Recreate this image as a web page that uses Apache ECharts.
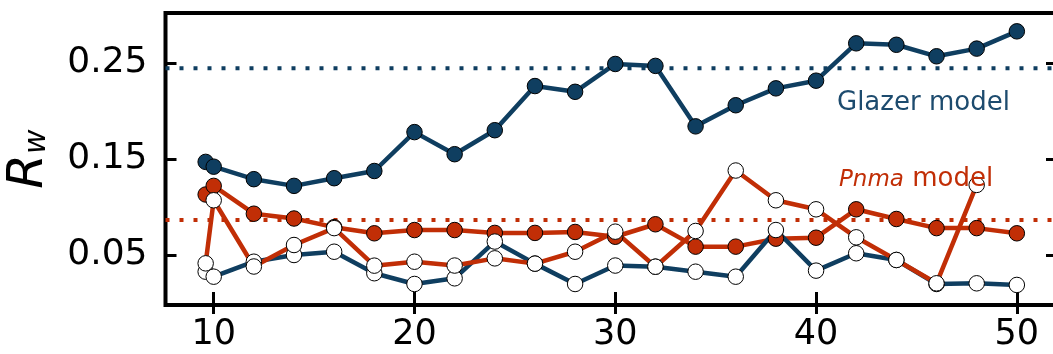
<!DOCTYPE html>
<html>
<head>
<meta charset="utf-8">
<script src="https://cdn.jsdelivr.net/npm/echarts@6/dist/echarts.min.js"></script>
<style>
html,body{margin:0;padding:0;background:#fff;}
#chart{width:1053px;height:354px;}
</style>
</head>
<body>
<div id="chart"></div>
<script>
// ---- data ----
const xValues = [9.6, 10, 12, 14, 16, 18, 20, 22, 24, 26, 28, 30, 32, 34, 36, 38, 40, 42, 44, 46, 48, 50];
const glazerFilled = [0.147, 0.142, 0.129, 0.122, 0.130, 0.1375, 0.178, 0.155, 0.180, 0.226, 0.220, 0.249, 0.247, 0.184, 0.206, 0.2236, 0.2316, 0.2705, 0.269, 0.257, 0.265, 0.283];
const pnmaFilled = [0.113, 0.122, 0.093, 0.088, 0.079, 0.0726, 0.076, 0.076, 0.073, 0.073, 0.074, 0.069, 0.082, 0.0587, 0.0587, 0.067, 0.068, 0.0976, 0.0875, 0.078, 0.078, 0.0726];
const glazerOpen = [0.0326, 0.0274, 0.043, 0.050, 0.0534, 0.031, 0.0198, 0.0257, 0.064, 0.041, 0.0198, 0.039, 0.0378, 0.0326, 0.0274, 0.076, 0.0337, 0.0518, 0.0448, 0.0198, 0.0205, 0.0188];
const pnmaOpen = [0.0413, 0.107, 0.038, 0.0604, 0.078, 0.0389, 0.043, 0.039, 0.0465, 0.041, 0.0534, 0.0743, 0.0378, 0.075, 0.138, 0.107, 0.0976, 0.0684, 0.0448, 0.0205, 0.123];
const glazerRef = 0.2445;
const pnmaRef = 0.0865;
const xTicks = [10, 20, 30, 40, 50];
const yTicks = [0.05, 0.15, 0.25];
const xMin = 7.6, xMax = 52.0;
const yMin = -0.0021, yMax = 0.3021;

const BLUE = '#0f3e60';
const RED = '#c12e06';
const FONT = 'DejaVu Sans';

function pairs(xs, ys) { return ys.map((v, i) => [xs[i], v]); }

const chart = echarts.init(document.getElementById('chart'), null, {renderer: 'canvas'});

const tickStyle = {show: true, inside: true, length: 11, lineStyle: {color: '#000', width: 3}};

function markerSeries(name, ys, lineColor, fill) {
  return {
    name: name, type: 'line', data: pairs(xValues, ys),
    symbol: 'circle', symbolSize: 15.5, showAllSymbol: true,
    lineStyle: {color: lineColor, width: 4.5},
    itemStyle: {color: fill, borderColor: '#000', borderWidth: 1},
    emphasis: {disabled: true}, silent: true
  };
}
function refSeries(level, color) {
  return {
    type: 'line', data: [[xMin, level], [xMax, level]], symbol: 'none',
    lineStyle: {color: color, width: 4, type: [4, 10], cap: 'butt'},
    silent: true, z: 1
  };
}

chart.setOption({
  animation: false,
  grid: {left: 165.5, top: 13, right: -4, bottom: 49, show: true, borderColor: '#000', borderWidth: 4,
         backgroundColor: 'transparent', containLabel: false, outerBoundsMode: 'none'},
  xAxis: [
    {type: 'value', min: xMin, max: xMax, position: 'bottom',
     axisLine: {show: false}, splitLine: {show: false},
     axisTick: Object.assign({customValues: xTicks}, tickStyle),
     axisLabel: {customValues: xTicks, fontSize: 35, color: '#000', fontFamily: FONT, margin: 12}},
    {type: 'value', min: xMin, max: xMax, position: 'top',
     axisLine: {show: false}, splitLine: {show: false},
     axisTick: Object.assign({customValues: xTicks}, tickStyle),
     axisLabel: {show: false}}
  ],
  yAxis: [
    {type: 'value', min: yMin, max: yMax, position: 'left',
     axisLine: {show: false}, splitLine: {show: false},
     axisTick: Object.assign({customValues: yTicks}, tickStyle),
     axisLabel: {customValues: yTicks, fontSize: 36, color: '#000', fontFamily: FONT, margin: 18,
                 formatter: v => v.toFixed(2)},
     name: '{R|R}{w|w}', nameLocation: 'middle', nameRotate: 90, nameGap: 111,
     nameTextStyle: {rich: {
       R: {fontSize: 50, fontStyle: 'italic', fontFamily: FONT, color: '#000'},
       w: {fontSize: 30, fontStyle: 'italic', fontFamily: FONT, color: '#000', padding: [16, 0, 0, 0]}
     }}},
    {type: 'value', min: yMin, max: yMax, position: 'right',
     axisLine: {show: false}, splitLine: {show: false},
     axisTick: Object.assign({customValues: yTicks}, tickStyle),
     axisLabel: {show: false}}
  ],
  series: [
    refSeries(glazerRef, BLUE),
    refSeries(pnmaRef, RED),
    markerSeries('Glazer filled', glazerFilled, BLUE, BLUE),
    markerSeries('Pnma filled', pnmaFilled, RED, RED),
    markerSeries('Glazer open', glazerOpen, BLUE, '#ffffff'),
    markerSeries('Pnma open', pnmaOpen, RED, '#ffffff')
  ],
  graphic: [
    {type: 'text', left: 837, top: 90, z: 100, silent: true,
     style: {text: 'Glazer model', fontSize: 26, fontFamily: FONT, fill: '#1d4b6e'}},
    {type: 'text', left: 839, top: 166, z: 100, silent: true,
     style: {text: '{i|Pnma}{n| model}', fontFamily: FONT,
       rich: {i: {fontSize: 23, fontStyle: 'italic', fontFamily: FONT, fill: RED, color: RED, padding: [3, 0, 0, 0]},
              n: {fontSize: 26, fontFamily: FONT, fill: RED, color: RED}}}}
  ]
});
</script>
</body>
</html>
